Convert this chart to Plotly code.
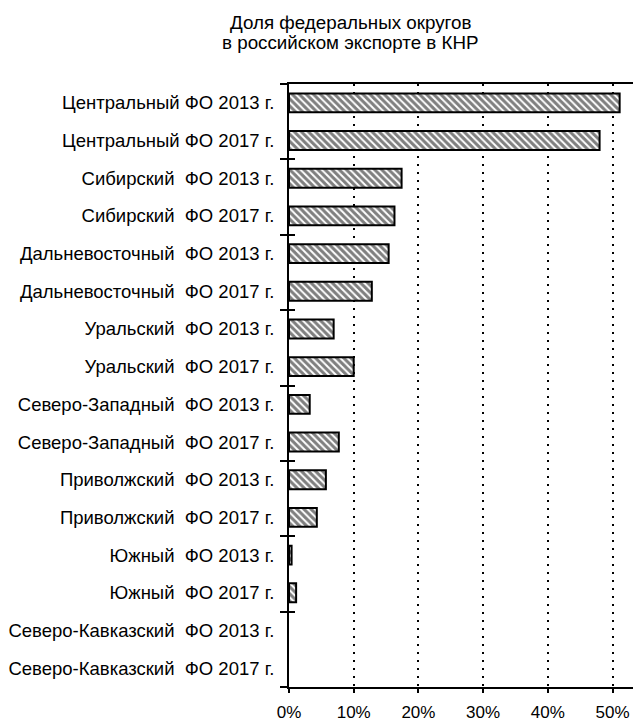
import plotly.graph_objects as go

categories = [
    "Центральный ФО 2013 г.",
    "Центральный ФО 2017 г.",
    "Сибирский\u00a0 ФО 2013 г.",
    "Сибирский\u00a0 ФО 2017 г.",
    "Дальневосточный\u00a0 ФО 2013 г.",
    "Дальневосточный\u00a0 ФО 2017 г.",
    "Уральский\u00a0 ФО 2013 г.",
    "Уральский\u00a0 ФО 2017 г.",
    "Северо-Западный\u00a0 ФО 2013 г.",
    "Северо-Западный\u00a0 ФО 2017 г.",
    "Приволжский\u00a0 ФО 2013 г.",
    "Приволжский\u00a0 ФО 2017 г.",
    "Южный\u00a0 ФО 2013 г.",
    "Южный\u00a0 ФО 2017 г.",
    "Северо-Кавказский\u00a0 ФО 2013 г.",
    "Северо-Кавказский\u00a0 ФО 2017 г.",
]
shares = [51.1, 48.0, 17.4, 16.3, 15.4, 12.8, 6.9, 10.0, 3.2, 7.7, 5.7, 4.3, 0.4, 1.1, 0.0, 0.0]
x_ticks = [0, 10, 20, 30, 40, 50]
x_tick_labels = ["0%", "10%", "20%", "30%", "40%", "50%"]
title_lines = ["Доля федеральных округов", "в российском экспорте в КНР"]

positions = list(range(len(categories)))
boundaries = [p - 0.5 for p in positions[::2]] + [len(categories) - 0.5]
outline_widths = [2 if v > 0 else 0 for v in shares]

font_family = "Liberation Sans, Arial, sans-serif"

# page body has an 8px default margin, so the figure is sized/positioned to compensate
W, H = 633, 715
L, T, B = 281, 76, 36
plot_w = W - L
plot_h = H - T - B

fig = go.Figure()
fig.add_trace(go.Bar(
    x=shares,
    y=positions,
    orientation="h",
    width=0.5,
    marker=dict(
        color="white",
        line=dict(color="black", width=outline_widths),
        pattern=dict(shape="\\", fgcolor="black", bgcolor="white", size=5, solidity=0.6),
    ),
    showlegend=False,
    hoverinfo="skip",
))
fig.add_trace(go.Scatter(x=[None], y=[None], yaxis="y2", showlegend=False, hoverinfo="skip"))

yrange = [len(categories) - 0.5, -0.5]

for i, line in enumerate(title_lines):
    fig.add_annotation(
        text=line, xref="paper", yref="paper",
        x=(342 - L) / plot_w, xanchor="center",
        y=1 + (T - (14 + 21 * i)) / plot_h, yanchor="middle",
        showarrow=False,
        font=dict(family=font_family, size=18.8, color="black"),
    )

fig.update_layout(
    width=W,
    height=H,
    plot_bgcolor="white",
    paper_bgcolor="white",
    margin=dict(l=L, r=0, t=T, b=B, autoexpand=False),
    font=dict(family=font_family, size=18, color="black"),
    bargap=0.5,
    xaxis=dict(
        range=[0, 54.4],
        tickvals=x_ticks,
        ticktext=x_tick_labels,
        ticks="outside",
        ticklen=4,
        tickwidth=1.5,
        tickcolor="black",
        showline=True,
        linecolor="black",
        linewidth=2,
        mirror=True,
        showgrid=True,
        gridcolor="black",
        gridwidth=1.5,
        griddash="2px,6px",
        zeroline=False,
        automargin=False,
        ticklabelstandoff=5,
        tickfont=dict(size=17),
    ),
    yaxis=dict(
        range=yrange,
        tickvals=positions,
        ticktext=categories,
        ticks="",
        showline=True,
        linecolor="black",
        linewidth=2,
        showgrid=False,
        zeroline=False,
        automargin=False,
        ticklabelstandoff=9,
        tickfont=dict(size=18.5),
        minor=dict(tickmode="array", tickvals=boundaries, ticks="outside", ticklen=7,
                   tickwidth=1.5, tickcolor="black", showgrid=False),
    ),
    yaxis2=dict(
        range=yrange,
        overlaying="y",
        side="left",
        anchor="x",
        tickvals=boundaries,
        showticklabels=False,
        ticks="inside",
        ticklen=6,
        tickwidth=1.5,
        tickcolor="black",
        showline=False,
        showgrid=False,
        zeroline=False,
        automargin=False,
    ),
)

fig.write_html("out.html")
